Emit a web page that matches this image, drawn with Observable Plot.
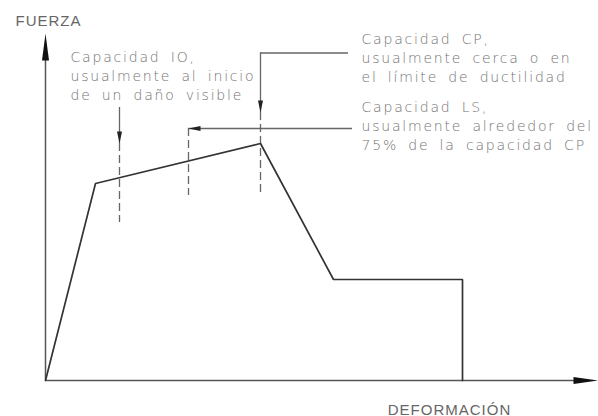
<!DOCTYPE html>
<html><head><meta charset="utf-8">
<script src="https://cdn.jsdelivr.net/npm/d3@7"></script>
<script src="https://cdn.jsdelivr.net/npm/@observablehq/plot@0.6"></script>
<style>
html,body{margin:0;padding:0;background:#fff;}
</style>
</head><body>
<div id="chart"></div>
<script>
// Pushover curve (deformation, force), in arbitrary units
const curveDeform = [0, 5.0, 21.5, 28.8, 41.7, 41.7];
const curveForce  = [0, 19.7, 23.7, 10.1, 10.1, 0];

// Axis extents and titles
const axisLabels = ["FUERZA", "DEFORMACIÓN"];
const axisLabelX = [0.3, 40.4];
const axisLabelY = [35.5, -3.4];
const xAxisEnd = 55.3;
const yAxisEnd = 34.7;

// Performance levels
const levels      = ["IO", "LS", "CP"];
const levelDeform = [7.4, 14.3, 21.5];
const dashTop     = [23.7, 25.2, 26.8];
const dashBottom  = [15.8, 18.5, 18.8];
const arrowDir    = ["down", "left", "down"];
// vertical solid leader segments (IO, CP)
const vLeadX  = [7.4, 21.5];
const vLeadY1 = [27.3, 32.75];
const vLeadY2 = [23.7, 26.8];
// horizontal leader segments (LS, CP)
const hLeadY  = [25.2, 32.75];
const hLeadX1 = [14.3, 21.5];
const hLeadX2 = [30.7, 30.3];

// Annotation text lines
const noteLines = [
  "Capacidad IO,", "usualmente al inicio", "de un daño visible",
  "Capacidad CP,", "usualmente cerca o en", "el límite de ductilidad",
  "Capacidad LS,", "usualmente alrededor del", "75% de la capacidad CP"
];
const noteX = [2.5, 2.5, 2.5, 31.6, 31.6, 31.6, 31.6, 31.6, 31.6];
const noteY = [31.9, 30.0, 28.1, 33.7, 31.8, 29.9, 26.9, 25.0, 23.1];

// ---- build tables ----
const curve = curveDeform.map((d, i) => ({d, f: curveForce[i]}));
const dashes = levels.map((l, i) => ({x: levelDeform[i], y1: dashTop[i], y2: dashBottom[i]}));
const vLeads = vLeadX.map((x, i) => ({x, y1: vLeadY1[i], y2: vLeadY2[i]}));
const hLeads = hLeadY.map((y, i) => ({y, x1: hLeadX1[i], x2: hLeadX2[i]}));
const notes = noteLines.map((t, i) => ({t, x: noteX[i], y: noteY[i]}));
const axLab = axisLabels.map((t, i) => ({t, x: axisLabelX[i], y: axisLabelY[i]}));

function head(dir, len, half) {
  return {draw(ctx) {
    ctx.moveTo(0, 0);
    if (dir === "up") { ctx.lineTo(-half, len); ctx.lineTo(half, len); }
    else if (dir === "down") { ctx.lineTo(-half, -len); ctx.lineTo(half, -len); }
    else if (dir === "left") { ctx.lineTo(len, -half); ctx.lineTo(len, half); }
    else { ctx.lineTo(-len, -half); ctx.lineTo(-len, half); }
    ctx.closePath();
  }};
}

const axisColor = "#555";
const leadColor = "#666";
const textColor = "#727272";

const chart = Plot.plot({
  width: 598, height: 416,
  margin: 0,
  x: {domain: [-4.5, 55.3], axis: null},
  y: {domain: [-3.6, 38.0], axis: null},
  style: {background: "#fff"},
  marks: [
    // axes
    Plot.ruleY([0], {x1: 0, x2: xAxisEnd - 1.5, stroke: axisColor, strokeWidth: 1.5}),
    Plot.ruleX([0], {y1: 0, y2: yAxisEnd - 1.5, stroke: axisColor, strokeWidth: 1.5}),
    Plot.dot([[0, yAxisEnd]], {x: d => d[0], y: d => d[1], symbol: head("up", 27, 3.5), fill: "#111", stroke: "none"}),
    Plot.dot([[xAxisEnd, 0]], {x: d => d[0], y: d => d[1], symbol: head("right", 25, 3.5), fill: "#111", stroke: "none"}),
    // dashed level lines
    Plot.ruleX(dashes, {x: "x", y1: "y1", y2: "y2", stroke: leadColor, strokeWidth: 1.3, strokeDasharray: "8,4"}),
    // leaders
    Plot.ruleX(vLeads, {x: "x", y1: "y1", y2: "y2", stroke: leadColor, strokeWidth: 1.3}),
    Plot.ruleY(hLeads, {y: "y", x1: "x1", x2: "x2", stroke: leadColor, strokeWidth: 1.3}),
    Plot.dot(dashes.filter((d, i) => arrowDir[i] === "down"), {x: "x", y: "y1", symbol: head("down", 12, 2.5), fill: "#222", stroke: "none"}),
    Plot.dot(dashes.filter((d, i) => arrowDir[i] === "left"), {x: "x", y: "y1", symbol: head("left", 12, 2.5), fill: "#222", stroke: "none"}),
    // curve
    Plot.line(curve, {x: "d", y: "f", stroke: "#333", strokeWidth: 1.7, strokeLinejoin: "miter"}),
    // notes
    Plot.text(notes, {x: "x", y: "y", text: "t", textAnchor: "start", lineAnchor: "bottom", fill: textColor,
      fontFamily: "DejaVu Sans", fontSize: 14, fontWeight: 300, className: "note"}),
    Plot.text(axLab, {x: "x", y: "y", text: "t", textAnchor: "middle", lineAnchor: "bottom", fill: "#666",
      fontFamily: "Liberation Sans", fontSize: 15, className: "axlab"})
  ]
});
d3.select(chart).selectAll(".note text").style("letter-spacing", "1.8px").style("word-spacing", "4px");
d3.select(chart).selectAll(".axlab text").style("letter-spacing", "1px");
document.getElementById("chart").appendChild(chart);
</script>
</body></html>
